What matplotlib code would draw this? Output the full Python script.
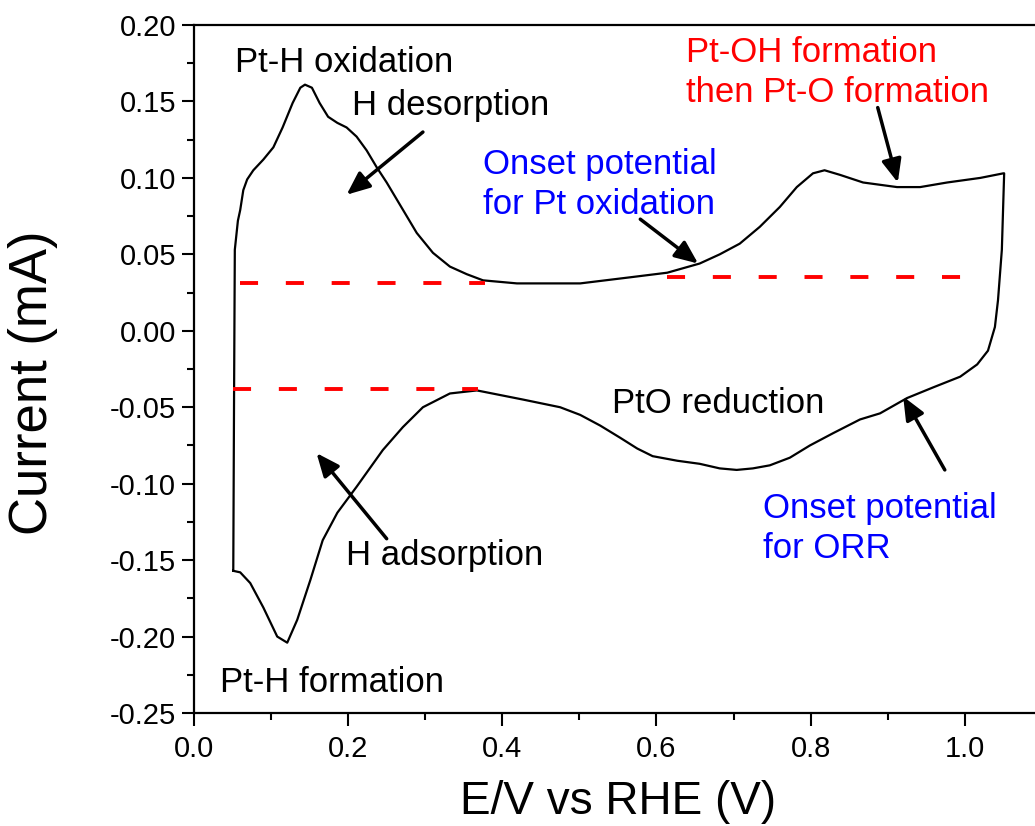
import matplotlib
matplotlib.use("Agg")
import matplotlib.pyplot as plt
from matplotlib.ticker import MultipleLocator, FormatStrFormatter

# anodic sweep (E in V vs RHE, I in mA)
E_anodic = [0.051, 0.052, 0.053, 0.057, 0.060, 0.064, 0.069, 0.077, 0.090, 0.103,
            0.115, 0.128, 0.138, 0.144, 0.153, 0.163, 0.174, 0.186, 0.198, 0.211,
            0.224, 0.237, 0.250, 0.263, 0.289, 0.310, 0.332, 0.354, 0.375, 0.419,
            0.462, 0.501, 0.566, 0.614, 0.656, 0.682, 0.708, 0.734, 0.760, 0.782,
            0.803, 0.818, 0.838, 0.868, 0.912, 0.942, 0.977, 1.020, 1.050]
I_anodic = [-0.157, -0.045, 0.053, 0.072, 0.079, 0.092, 0.099, 0.105, 0.112, 0.120,
            0.133, 0.149, 0.159, 0.161, 0.159, 0.149, 0.140, 0.136, 0.133, 0.127,
            0.118, 0.107, 0.097, 0.086, 0.064, 0.051, 0.042, 0.037, 0.033, 0.031,
            0.031, 0.031, 0.035, 0.038, 0.044, 0.050, 0.057, 0.068, 0.081, 0.094,
            0.103, 0.105, 0.102, 0.097, 0.094, 0.094, 0.097, 0.100, 0.103]

# cathodic sweep
E_cathodic = [1.051, 1.048, 1.043, 1.039, 1.030, 1.016, 0.994, 0.959, 0.925, 0.890,
              0.864, 0.829, 0.799, 0.773, 0.747, 0.725, 0.704, 0.682, 0.656, 0.627,
              0.595, 0.575, 0.553, 0.527, 0.501, 0.475, 0.427, 0.367, 0.332, 0.297,
              0.271, 0.245, 0.211, 0.186, 0.167, 0.151, 0.134, 0.121, 0.108, 0.090,
              0.073, 0.060, 0.051]
I_cathodic = [0.103, 0.053, 0.020, 0.0025, -0.013, -0.022, -0.030, -0.037, -0.044, -0.054,
              -0.058, -0.067, -0.075, -0.083, -0.088, -0.090, -0.091, -0.090, -0.087, -0.085,
              -0.082, -0.077, -0.070, -0.062, -0.055, -0.050, -0.045, -0.039, -0.041, -0.050,
              -0.063, -0.078, -0.102, -0.119, -0.137, -0.163, -0.189, -0.204, -0.200, -0.181,
              -0.165, -0.158, -0.157]

# red dashed baselines: (x_start, x_end, level)
baselines = [(0.060, 0.377, 0.031), (0.051, 0.368, -0.038), (0.614, 1.017, 0.035)]

# annotations: text, x, y (baseline of last line), colour
labels = [
    ("Pt-H oxidation", 0.053, 0.169, "black"),
    ("H desorption", 0.205, 0.141, "black"),
    ("Onset potential\nfor Pt oxidation", 0.375, 0.0764, "blue"),
    ("Pt-OH formation\nthen Pt-O formation", 0.638, 0.1496, "red"),
    ("PtO reduction", 0.542, -0.054, "black"),
    ("Onset potential\nfor ORR", 0.738, -0.1486, "blue"),
    ("H adsorption", 0.197, -0.153, "black"),
    ("Pt-H formation", 0.034, -0.236, "black"),
]

# arrows: (tail, tip)
arrows = [
    ((0.297, 0.130), (0.198, 0.089)),
    ((0.579, 0.073), (0.654, 0.044)),
    ((0.887, 0.146), (0.913, 0.097)),
    ((0.250, -0.136), (0.159, -0.080)),
    ((0.974, -0.091), (0.920, -0.043)),
]

plt.rcParams['font.family'] = ['Liberation Sans', 'DejaVu Sans']
plt.rcParams['axes.unicode_minus'] = False
plt.rcParams['lines.scale_dashes'] = False

fig = plt.figure(figsize=(10.35, 8.26), dpi=100)
ax = fig.add_axes([0.1874, 0.1368, 0.8193, 0.8329])

ax.plot(E_anodic + E_cathodic, I_anodic + I_cathodic, color='black', lw=1.6,
        solid_joinstyle='round')

for x0, x1, lvl in baselines:
    ax.plot([x0, x1], [lvl, lvl], color='red', lw=2.8, dashes=(13, 20))

for txt, x, y, c in labels:
    ax.text(x, y, txt, color=c, fontsize=25, va='baseline', ha='left',
            linespacing=1.27)

for tail, tip in arrows:
    ax.annotate('', xy=tip, xytext=tail,
                arrowprops=dict(arrowstyle='-|>,head_length=0.7,head_width=0.3',
                                color='black', lw=2.5, mutation_scale=20,
                                shrinkA=0, shrinkB=0))

ax.set_xlim(0, 1.1)
ax.set_ylim(-0.25, 0.20)
ax.xaxis.set_major_locator(MultipleLocator(0.2))
ax.xaxis.set_minor_locator(MultipleLocator(0.1))
ax.yaxis.set_major_locator(MultipleLocator(0.05))
ax.yaxis.set_minor_locator(MultipleLocator(0.025))
ax.xaxis.set_major_formatter(FormatStrFormatter('%.1f'))
ax.yaxis.set_major_formatter(FormatStrFormatter('%.2f'))
ax.tick_params(which='major', length=9, width=1.5, labelsize=21, pad=4)
ax.tick_params(which='minor', length=5, width=1.5)
ax.tick_params(axis='x', pad=7)
for s in ax.spines.values():
    s.set_linewidth(1.6)

ax.set_xlabel("E/V vs RHE (V)", fontsize=33)
ax.set_ylabel("Current (mA)", fontsize=38)
ax.xaxis.set_label_coords(0.5, -0.097)
ax.yaxis.set_label_coords(-0.16, 0.48)

fig.savefig("out.png", dpi=100)
